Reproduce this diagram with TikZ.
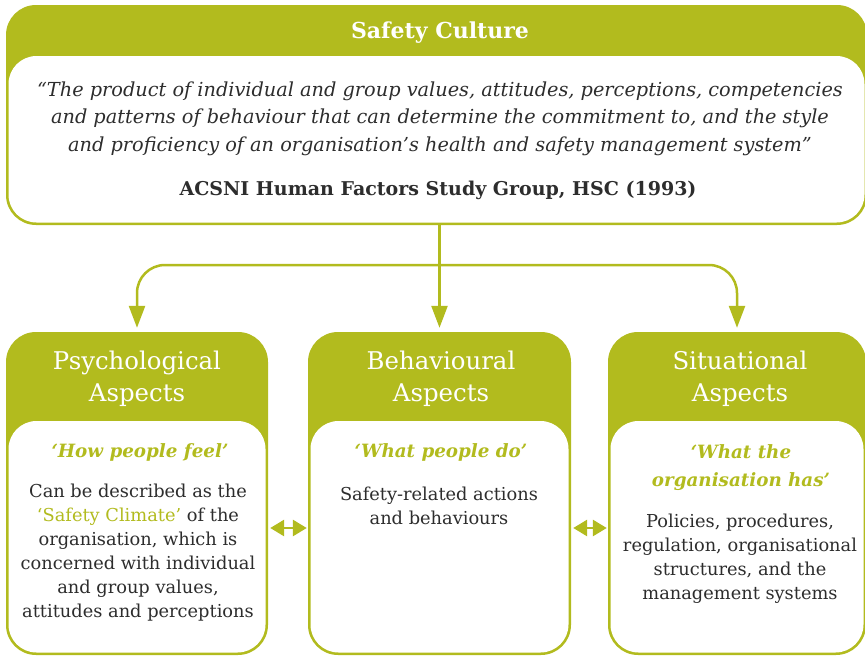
\documentclass[tikz,border=0pt]{standalone}
\usepackage{fontspec}
\setmainfont{DejaVu Serif}
\usetikzlibrary{arrows.meta, positioning}
\definecolor{hsgreen}{RGB}{178,187,30}
\definecolor{hstext}{RGB}{45,45,45}
\tikzset{
  outerbox/.style={fill=hsgreen, rounded corners=30pt, inner sep=0pt},
  innerbox/.style={fill=white, rounded corners=28pt, inner sep=0pt},
  titletext/.style={text=white, font=\fontsize{22}{26}\selectfont\bfseries},
  headtext/.style={text=white, align=center, font=\fontsize{24.4}{32}\selectfont},
  quotetext/.style={text=hstext, align=center, font=\fontsize{19.3}{27.5}\selectfont\itshape},
  sourcetext/.style={text=hstext, font=\fontsize{19}{22}\selectfont\bfseries},
  subtext/.style={text=hsgreen, align=center, font=\fontsize{18.3}{28}\selectfont\bfseries\itshape},
  bodytext/.style={text=hstext, align=center, font=\fontsize{17.8}{24}\selectfont},
  flow/.style={hsgreen, line width=2.5pt, -{Triangle[length=22pt, width=16pt]}, shorten >=4pt},
  linkarrow/.style={hsgreen, line width=2.8pt, {Triangle[length=14pt, width=16pt]}-{Triangle[length=14pt, width=16pt]}, shorten <=2pt, shorten >=1pt}
}
\begin{document}
\begin{tikzpicture}[x=1pt, y=-1pt]
  \useasboundingbox (0,0) rectangle (865,656);
  % top box
  \node[outerbox, minimum width=861pt, minimum height=220pt] (culture) at (436.5,115) {};
  \node[innerbox, minimum width=856pt, minimum height=166.5pt] (cultureIn) at (436.5,139.25) {};
  \node[titletext] (cultureTitle) at (440,33) {Safety Culture};
  \node[quotetext] (quote) at (440,118.5) {“The product of individual and group values, attitudes, perceptions, competencies\\
    and patterns of behaviour that can determine the commitment to, and the style\\
    and proficiency of an organisation’s health and safety management system”};
  \node[sourcetext] (source) at (438,190) {ACSNI Human Factors Study Group, HSC (1993)};
  % aspect boxes
  \node[outerbox, minimum width=262pt, minimum height=323pt] (psych) at (137,493.5) {};
  \node[innerbox, minimum width=257pt, minimum height=231.5pt] (psychIn) at (137,536.75) {};
  \node[outerbox, minimum width=263pt, minimum height=323pt] (behav) at (439.5,493.5) {};
  \node[innerbox, minimum width=258pt, minimum height=231.5pt] (behavIn) at (439.5,536.75) {};
  \node[outerbox, minimum width=258pt, minimum height=323pt] (situ) at (737,493.5) {};
  \node[innerbox, minimum width=253pt, minimum height=231.5pt] (situIn) at (737,536.75) {};
  \node[headtext] (psychHead) at (137,379) {Psychological\\Aspects};
  \node[headtext] (behavHead) at (441,379) {Behavioural\\Aspects};
  \node[headtext] (situHead) at (740,379) {Situational\\Aspects};
  \node[subtext] (psychSub) at (140,452) {‘How people feel’};
  \node[subtext] (behavSub) at (441,452) {‘What people do’};
  \node[subtext] (situSub) at (741,468) {‘What the\\organisation has’};
  \node[bodytext] (psychBody) at (138,553) {Can be described as the\\
    \textcolor{hsgreen}{‘Safety Climate’} of the\\organisation, which is\\
    concerned with individual\\and group values,\\attitudes and perceptions};
  \node[bodytext] (behavBody) at (439,506) {Safety-related actions\\and behaviours};
  \node[bodytext] (situBody) at (740,559) {Policies, procedures,\\regulation, organisational\\
    structures, and the\\management systems};
  % connectors
  \coordinate (split) at (440,265);
  \coordinate (link) at (0,528);
  \draw[flow] (behav.north |- culture.south) -- (behav.north);
  \draw[flow, rounded corners=28pt] (split) -| (psych.north);
  \draw[flow, rounded corners=28pt] (split) -| (situ.north);
  \draw[linkarrow] (psych.east |- link) -- (behav.west |- link);
  \draw[linkarrow] (behav.east |- link) -- (situ.west |- link);
\end{tikzpicture}
\end{document}
